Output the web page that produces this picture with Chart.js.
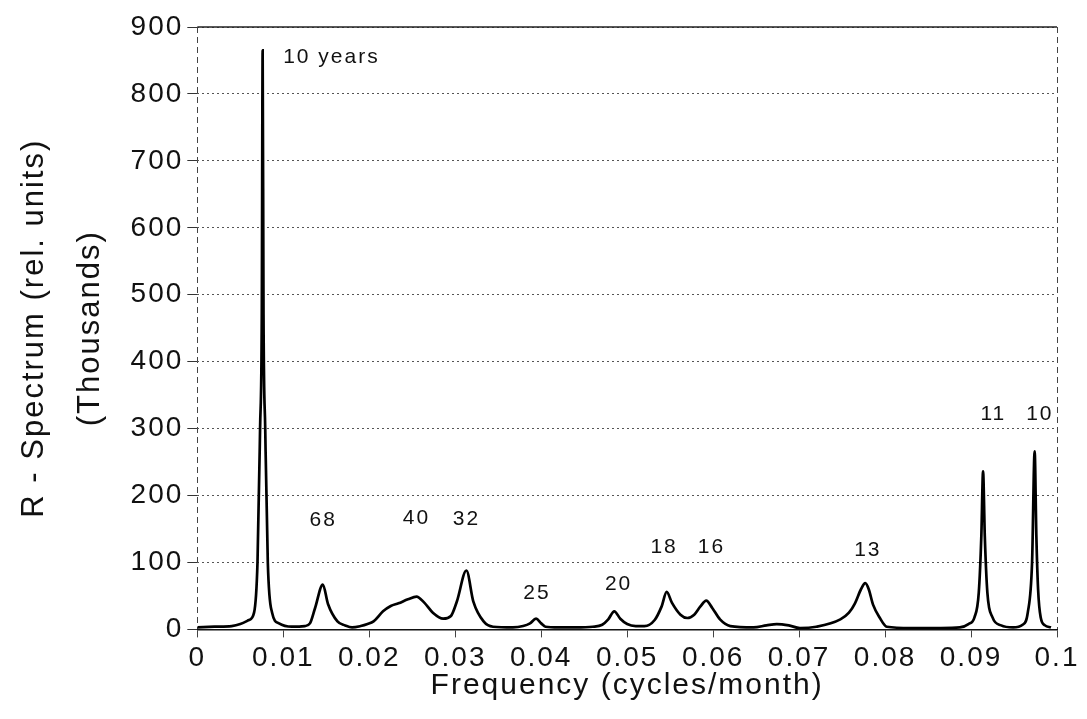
<!DOCTYPE html>
<html lang="en">
<head>
    <meta charset="UTF-8">
    <title>R - Spectrum</title>
    <style>
        body {
            background-color: #ffffff;
            margin: 0;
            font-family: "Liberation Sans", Arial, sans-serif;
        }
        .chart-box {
            width: 1087px;
            height: 719px;
        }
    </style>
    <script src="https://cdn.jsdelivr.net/npm/chart.js"></script>
</head>
<body>
    <div class="chart-box">
        <canvas id="spectrumChart" width="1087" height="719"></canvas>
    </div>

    <script>
        // spectrum (frequency in cycles/month, power in thousands)
        const freq = [
            0, 0.002, 0.004, 0.005, 0.006, 0.0066, 0.007, 0.0073, 0.0075, 0.0076, 0.0077, 0.0079, 0.0082, 0.0087, 0.0095,
            0.011, 0.0125, 0.0131, 0.0137, 0.0146, 0.0152, 0.0163, 0.0172, 0.018, 0.019, 0.0198, 0.0205,
            0.0216, 0.0225, 0.0234, 0.0245, 0.0255, 0.0264, 0.0274, 0.0286, 0.0295, 0.0302, 0.0313, 0.0321,
            0.0333, 0.0344, 0.0367, 0.0379, 0.0387, 0.0394, 0.0400, 0.0405, 0.042, 0.044, 0.046, 0.0471,
            0.0478, 0.0485, 0.0492, 0.0500, 0.051, 0.052, 0.0532, 0.054, 0.0546, 0.0552, 0.0562, 0.057,
            0.0578, 0.0585, 0.0592, 0.0599, 0.0608, 0.062, 0.0647, 0.0662, 0.0674, 0.0688, 0.0701, 0.072,
            0.0748, 0.0758, 0.0765, 0.0772, 0.0777, 0.0781, 0.0786, 0.0794, 0.0802, 0.083, 0.0865, 0.0887,
            0.0897, 0.0904, 0.0909, 0.0912, 0.0914, 0.0916, 0.0919, 0.0925, 0.0935, 0.0949, 0.096, 0.0966,
            0.0971, 0.0974, 0.0976, 0.0978, 0.0981, 0.0986, 0.0993, 0.1
        ];
        const power = [
            3, 4, 5, 8, 14, 25, 100, 300, 470, 865, 470, 300, 100, 25, 9,
            4, 5, 9, 32, 67, 38, 12, 6, 3, 5, 8, 12,
            27, 35, 39, 45, 49, 40, 25, 16, 20, 42, 88, 42,
            12, 4, 3, 5, 9, 16, 9, 4, 3, 3, 4, 7,
            15, 27, 16, 8, 5, 5, 14, 34, 56, 40, 22, 17,
            22, 34, 43, 32, 15, 5, 3, 6, 8, 6, 2, 4,
            15, 25, 39, 60, 69, 60, 37, 17, 4, 2, 2, 3,
            8, 18, 55, 140, 236, 140, 55, 18, 6, 3, 7, 25,
            100, 266, 139, 60, 18, 6, 3
        ];

        const xTickLabels = ['0', '0.01', '0.02', '0.03', '0.04', '0.05', '0.06', '0.07', '0.08', '0.09', '0.1'];

        // period labels above the peaks (months, except the first)
        const peakLabels = ['10 years', '68', '40', '32', '25', '20', '18', '16', '13', '11', '10'];
        const peakLabelX = [0.0156, 0.01465, 0.0255, 0.0313, 0.0395, 0.049, 0.0543, 0.0598, 0.078, 0.0926, 0.098];
        const peakLabelY = [855, 163, 166, 165, 54, 67, 123, 123, 118, 322, 322];

        const spacing = {
            id: 'spacing',
            beforeUpdate(chart) { chart.ctx.letterSpacing = '2px'; },
            beforeDraw(chart) { chart.ctx.letterSpacing = '2px'; }
        };

        const peakText = {
            id: 'peakText',
            afterDatasetsDraw(chart) {
                const ctx = chart.ctx;
                const xs = chart.scales.x, ys = chart.scales.y;
                ctx.save();
                ctx.letterSpacing = '2px';
                ctx.font = '21px "Liberation Sans", Arial, sans-serif';
                ctx.fillStyle = '#111';
                ctx.textAlign = 'center';
                ctx.textBaseline = 'middle';
                peakLabels.forEach((t, i) => {
                    ctx.fillText(t, xs.getPixelForValue(peakLabelX[i]), ys.getPixelForValue(peakLabelY[i]));
                });
                // solid frame line along the top
                const a = chart.chartArea;
                ctx.strokeStyle = '#222';
                ctx.lineWidth = 1.5;
                ctx.beginPath();
                ctx.moveTo(a.left, a.top);
                ctx.lineTo(a.right, a.top);
                ctx.stroke();
                ctx.restore();
            }
        };

        const ctx = document.getElementById('spectrumChart').getContext('2d');
        const spectrumChart = new Chart(ctx, {
            type: 'line',
            data: {
                datasets: [{
                    label: 'R - Spectrum',
                    data: freq.map((f, i) => ({ x: f, y: power[i] })),
                    borderColor: '#000000',
                    borderWidth: 2.7,
                    pointRadius: 0,
                    cubicInterpolationMode: 'monotone',
                    fill: false
                }]
            },
            plugins: [spacing, peakText],
            options: {
                responsive: false,
                animation: false,
                layout: {
                    padding: { left: 7, right: 30, top: 27, bottom: 18 }
                },
                plugins: {
                    legend: { display: false },
                    tooltip: { enabled: false }
                },
                scales: {
                    x: {
                        type: 'linear',
                        min: 0,
                        max: 0.1,
                        ticks: {
                            stepSize: 0.01,
                            color: '#111',
                            padding: 4,
                            maxRotation: 0,
                            font: { family: '"Liberation Sans", Arial, sans-serif', size: 28 },
                            callback: (v, i) => xTickLabels[i]
                        },
                        grid: {
                            color: c => (c.tick && (c.index === 0 || c.index === 10)) ? '#444' : 'rgba(0,0,0,0)',
                            tickColor: '#444',
                            tickLength: 8,
                            lineWidth: 1
                        },
                        border: { display: true, color: '#111', width: 1.5, dash: [6, 4] },
                        title: {
                            display: true,
                            text: 'Frequency (cycles/month)',
                            color: '#111',
                            padding: { top: -8, bottom: 0 },
                            font: { family: '"Liberation Sans", Arial, sans-serif', size: 30, lineHeight: 1.0 }
                        }
                    },
                    y: {
                        min: 0,
                        max: 900,
                        ticks: {
                            stepSize: 100,
                            color: '#111',
                            padding: 4,
                            font: { family: '"Liberation Sans", Arial, sans-serif', size: 28 }
                        },
                        grid: {
                            color: '#555',
                            tickColor: '#333',
                            tickLength: 10,
                            lineWidth: 1
                        },
                        border: { display: false, dash: [2, 3] },
                        title: {
                            display: true,
                            text: ['R - Spectrum (rel. units)', '(Thousands)'],
                            color: '#111',
                            padding: { top: 0, bottom: 8 },
                            font: { family: '"Liberation Sans", Arial, sans-serif', size: 31, lineHeight: 1.8 }
                        }
                    }
                }
            }
        });
    </script>
</body>
</html>
